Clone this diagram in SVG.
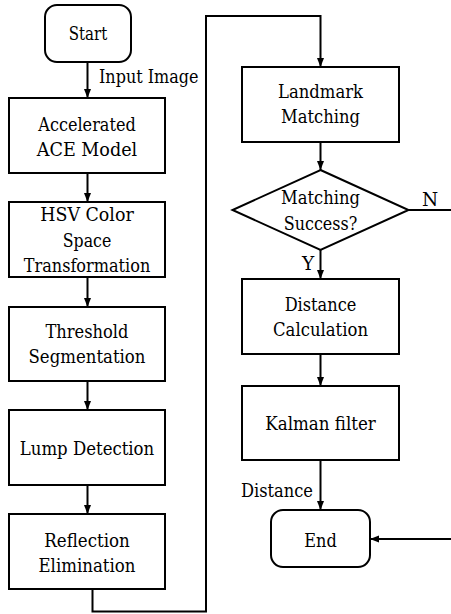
<svg xmlns="http://www.w3.org/2000/svg" width="451" height="614" viewBox="0 0 451 614">
  <defs>
    <marker id="arrow" markerUnits="userSpaceOnUse" markerWidth="10" markerHeight="8" refX="9" refY="3.5" orient="auto">
      <path d="M0,0 L9,3.5 L0,7 z" fill="#000"/>
    </marker>
    <style>
      text { font-family: 'DejaVu Serif', serif; font-size: 18.5px; fill: #000; }
      .box { fill: #fff; stroke: #000; stroke-width: 2; }
      .lbl { text-anchor: middle; }
      .link { fill: none; stroke: #000; stroke-width: 2; }
      .arr { marker-end: url(#arrow); }
    </style>
  </defs>
  <rect width="451" height="614" fill="#fff"/>

  <!-- connectors -->
  <g id="connectors">
    <path class="link arr" d="M87.5,62 V98"/>
    <path class="link arr" d="M87.5,173 V202"/>
    <path class="link arr" d="M87.5,277 V307"/>
    <path class="link arr" d="M87.5,381 V410"/>
    <path class="link arr" d="M87.5,485 V514"/>
    <path class="link arr" d="M92.5,589 V611.5 H206 V16 H320.5 V67"/>
    <path class="link arr" d="M320.5,142 V170"/>
    <path class="link arr" d="M320.5,250 V279"/>
    <path class="link arr" d="M320.5,354 V386"/>
    <path class="link arr" d="M320.5,460 V510"/>
    <path class="link arr" d="M408.5,210 H462 V539 H370"/>
    <text x="99" y="83" textLength="99.5" lengthAdjust="spacingAndGlyphs">Input Image</text>
    <text x="422" y="206">N</text>
    <text x="302" y="270">Y</text>
    <text x="241" y="497" textLength="72" lengthAdjust="spacingAndGlyphs">Distance</text>
  </g>

  <!-- left column -->
  <g id="start">
    <rect class="box" x="45" y="5" width="86" height="57" rx="12"/>
    <text class="lbl" x="88" y="40" textLength="38.5" lengthAdjust="spacingAndGlyphs">Start</text>
  </g>
  <g id="ace">
    <rect class="box" x="9" y="98" width="156" height="75"/>
    <text class="lbl" x="87" y="131" textLength="97.5" lengthAdjust="spacingAndGlyphs">Accelerated</text>
    <text class="lbl" x="87" y="156" textLength="100.5" lengthAdjust="spacingAndGlyphs">ACE Model</text>
  </g>
  <g id="hsv">
    <rect class="box" x="9" y="202" width="156" height="75"/>
    <text class="lbl" x="87" y="221" textLength="93.5" lengthAdjust="spacingAndGlyphs">HSV Color</text>
    <text class="lbl" x="87" y="246.5" textLength="48.5" lengthAdjust="spacingAndGlyphs">Space</text>
    <text class="lbl" x="87" y="271.5" textLength="126.5" lengthAdjust="spacingAndGlyphs">Transformation</text>
  </g>
  <g id="threshold">
    <rect class="box" x="9" y="307" width="156" height="74"/>
    <text class="lbl" x="87" y="338" textLength="83" lengthAdjust="spacingAndGlyphs">Threshold</text>
    <text class="lbl" x="87" y="363" textLength="117" lengthAdjust="spacingAndGlyphs">Segmentation</text>
  </g>
  <g id="lump">
    <rect class="box" x="9" y="410" width="156" height="75"/>
    <text class="lbl" x="87" y="455" textLength="134.5" lengthAdjust="spacingAndGlyphs">Lump Detection</text>
  </g>
  <g id="reflection">
    <rect class="box" x="9" y="514" width="156" height="75"/>
    <text class="lbl" x="87" y="547" textLength="85.5" lengthAdjust="spacingAndGlyphs">Reflection</text>
    <text class="lbl" x="87" y="572" textLength="97" lengthAdjust="spacingAndGlyphs">Elimination</text>
  </g>

  <!-- right column -->
  <g id="landmark">
    <rect class="box" x="242" y="67" width="157" height="75"/>
    <text class="lbl" x="320.5" y="98" textLength="85" lengthAdjust="spacingAndGlyphs">Landmark</text>
    <text class="lbl" x="320.5" y="123" textLength="79" lengthAdjust="spacingAndGlyphs">Matching</text>
  </g>
  <g id="decision">
    <polygon class="box" points="320.5,170 408.5,210 320.5,250 232.5,210"/>
    <text class="lbl" x="320.5" y="204" textLength="79" lengthAdjust="spacingAndGlyphs">Matching</text>
    <text class="lbl" x="320.5" y="229.5" textLength="73.5" lengthAdjust="spacingAndGlyphs">Success?</text>
  </g>
  <g id="distance">
    <rect class="box" x="242" y="279" width="157" height="75"/>
    <text class="lbl" x="320.5" y="311" textLength="71.7" lengthAdjust="spacingAndGlyphs">Distance</text>
    <text class="lbl" x="320.5" y="336" textLength="95" lengthAdjust="spacingAndGlyphs">Calculation</text>
  </g>
  <g id="kalman">
    <rect class="box" x="242" y="386" width="157" height="74"/>
    <text class="lbl" x="320.5" y="430" textLength="110.5" lengthAdjust="spacingAndGlyphs">Kalman filter</text>
  </g>
  <g id="end">
    <rect class="box" x="271" y="510" width="99" height="57" rx="12"/>
    <text class="lbl" x="320.5" y="547" textLength="32.5" lengthAdjust="spacingAndGlyphs">End</text>
  </g>
</svg>
